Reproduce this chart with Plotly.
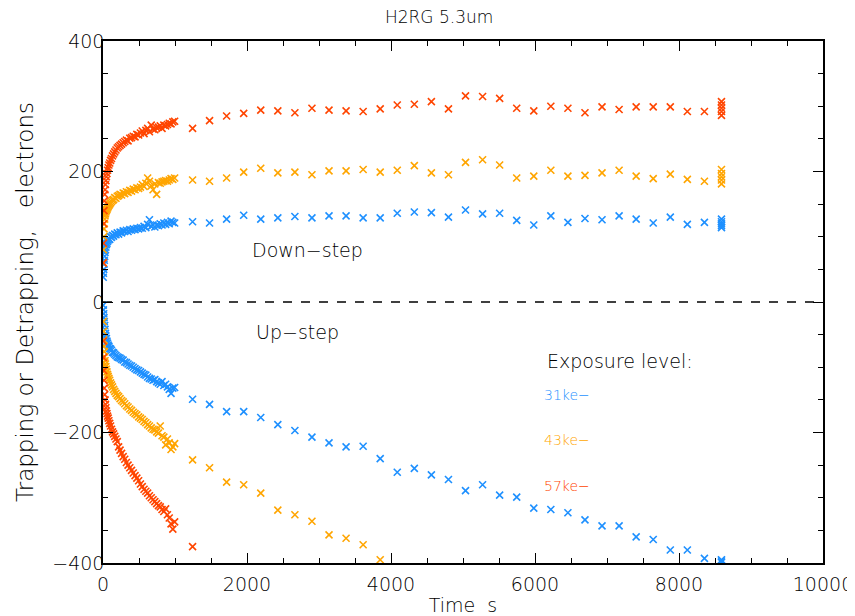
import plotly.graph_objects as go

# ---- data ----
t_dense = [3, 6, 10, 14, 18, 23, 28, 34, 40, 47, 55, 63, 72, 82, 93, 105, 118, 132, 147, 163,
           180, 198, 217, 237, 258, 280, 302, 325, 348, 372, 396, 420, 445, 470, 495, 520, 545,
           570, 595, 620, 645, 670, 695, 720, 745, 770, 795, 820, 845, 870, 895, 920, 945, 970, 995]
t_sparse = [1244, 1480, 1717, 1954, 2191, 2428, 2665, 2902, 3139, 3376, 3613, 3850, 4087, 4324,
            4561, 4798, 5035, 5272, 5509, 5746, 5983, 6220, 6457, 6694, 6931, 7168, 7405, 7642,
            7879, 8116, 8353]
t_end = 8590

# Down-step (detrapping), positive
blue_down_dense = [38, 44, 50, 58, 64, 70, 76, 80, 84, 88, 90, 93, 95, 97, 96, 100, 99, 102, 101, 104,
                   103, 106, 104, 107, 106, 109, 108, 110, 108, 111, 110, 112, 111, 113, 112, 114, 113,
                   116, 114, 119, 126, 116, 118, 115, 118, 117, 120, 118, 121, 119, 122, 120, 124, 122, 121]
orange_down_dense = [60, 80, 100, 112, 120, 127, 132, 135, 138, 140, 142, 144, 146, 148, 150, 152, 154, 156, 157, 160,
                     159, 162, 163, 165, 164, 167, 166, 169, 168, 171, 170, 173, 172, 175, 174, 176, 180,
                     177, 182, 190, 185, 178, 172, 181, 165, 183, 182, 184, 185, 186, 185, 187, 189, 188, 190]
red_down_dense = [60, 90, 120, 140, 155, 165, 172, 180, 186, 192, 197, 202, 206, 210, 213, 217, 220, 224, 227, 230,
                  233, 236, 238, 240, 242, 244, 246, 248, 247, 251, 252, 254, 253, 257, 256, 259, 262,
                  258, 263, 266, 261, 271, 265, 264, 267, 268, 270, 266, 271, 270, 272, 274, 273, 276, 277]

blue_down_sparse = [123, 121, 127, 133, 127, 129, 131, 129, 132, 132, 129, 129, 136, 138, 137, 130, 141, 135, 136,
                    125, 118, 132, 122, 128, 126, 132, 127, 121, 130, 119, 122]
orange_down_sparse = [187, 185, 190, 199, 205, 198, 199, 195, 201, 201, 203, 199, 202, 209, 198, 195, 214, 218, 210,
                      190, 193, 202, 193, 194, 198, 202, 193, 189, 196, 188, 185]
red_down_sparse = [266, 278, 285, 289, 294, 293, 290, 297, 294, 293, 292, 296, 302, 303, 307, 296, 316, 315, 312,
                   297, 293, 300, 297, 290, 299, 295, 299, 299, 299, 292, 292]

blue_down_end = [127, 123, 120, 117, 114]
orange_down_end = [203, 197, 192, 187, 181]
red_down_end = [307, 302, 297, 292, 286]

# Up-step (trapping), negative
blue_up_dense = [-5, -12, -18, -24, -30, -36, -42, -48, -52, -56, -60, -63, -66, -68, -71, -72, -74, -77, -78, -80,
                 -82, -84, -85, -86, -88, -89, -92, -93, -95, -97, -98, -100, -102, -104, -105, -107, -109,
                 -111, -112, -115, -117, -118, -120, -119, -122, -124, -126, -122, -128, -126, -130, -134, -140, -132, -131]
orange_up_dense = [-30, -45, -58, -68, -76, -84, -90, -95, -99, -103, -107, -111, -114, -117, -120, -124, -127, -130, -134, -137,
                   -140, -143, -145, -148, -151, -153, -156, -159, -161, -164, -166, -169, -171, -173, -176, -178, -180,
                   -183, -185, -188, -190, -193, -195, -196, -199, -201, -190, -205, -207, -219, -210, -216, -226, -222, -217]
red_up_dense = [-60, -85, -105, -120, -132, -142, -150, -157, -162, -167, -171, -175, -178, -182, -186, -190, -195, -199, -202, -206,
                -210, -214, -222, -227, -232, -237, -241, -246, -250, -254, -258, -262, -266, -270, -274, -279, -283,
                -287, -290, -293, -297, -300, -303, -306, -309, -312, -314, -318, -321, -317, -326, -331, -340, -348, -337]

blue_up_sparse = [-149, -157, -168, -168, -177, -188, -197, -207, -216, -222, -221, -240, -261, -255, -265, -272, -289, -280, -296,
                  -299, -316, -318, -323, -334, -343, -343, -360, -364, -380, -380, -393]
orange_up_sparse = [-242, -254, -276, -280, -293, -319, -326, -336, -357, -362, -372, -395]
red_up_sparse = [-375]
blue_up_end = [-395, -397, -399]

x_ticks = [0, 2000, 4000, 6000, 8000, 10000]
x_ticklabels = ["0", "2000", "4000", "6000", "8000", "10000"]
y_ticks = [-400, -200, 0, 200, 400]
y_ticklabels = ["\u2212400", "\u2212200", "0", "200", "400"]

BLUE = "#1E90FF"
ORANGE = "#FFA500"
RED = "#FF4500"

fig = go.Figure()

def add(xs, ys, color):
    fig.add_trace(go.Scatter(
        x=xs, y=ys, mode="markers",
        marker=dict(symbol="x-thin", size=7, color=color, line=dict(color=color, width=1.6)),
        showlegend=False, hoverinfo="skip"))

series = [
    (blue_down_dense, blue_down_sparse, blue_down_end, BLUE),
    (orange_down_dense, orange_down_sparse, orange_down_end, ORANGE),
    (red_down_dense, red_down_sparse, red_down_end, RED),
    (blue_up_dense, blue_up_sparse, blue_up_end, BLUE),
    (orange_up_dense, orange_up_sparse, [], ORANGE),
    (red_up_dense, red_up_sparse, [], RED),
]
for dense, sparse, end, col in series:
    xs = t_dense + t_sparse[:len(sparse)] + [t_end] * len(end)
    ys = dense + sparse + end
    add(xs, ys, col)

FONT = "DejaVu Sans, Liberation Sans, sans-serif"
TXT = "#000000"
W = 300

fig.add_shape(type="line", xref="x", yref="y", x0=0, x1=10000, y0=0, y1=0,
              line=dict(color="black", width=1.5, dash="dash"), layer="below")

annots = [
    dict(x=2836, y=80, text="Down\u2212step", color=TXT, anchor="center"),
    dict(x=2700, y=-46, text="Up\u2212step", color=TXT, anchor="center"),
    dict(x=6140, y=-90, text="Exposure level:", color=TXT, anchor="left"),
    dict(x=6100, y=-143, text="31ke\u2212", color=BLUE, anchor="left"),
    dict(x=6100, y=-211, text="43ke\u2212", color=ORANGE, anchor="left"),
    dict(x=6100, y=-282, text="57ke\u2212", color=RED, anchor="left"),
]
for a in annots:
    fig.add_annotation(x=a["x"], y=a["y"], text=a["text"], showarrow=False,
                       xanchor=a["anchor"], yanchor="middle",
                       font=dict(family=FONT, size=19 if a["color"] == TXT else 14, color=a["color"], weight=W))

axis_common = dict(
    showgrid=False, zeroline=False, showline=True, linecolor="black", linewidth=1.5,
    mirror="allticks", ticks="inside", ticklen=10, tickwidth=1.3, tickcolor="black",
    tickfont=dict(family=FONT, size=19, color=TXT, weight=W), automargin=False,
)
fig.update_xaxes(range=[0, 10000], tickvals=x_ticks, ticktext=x_ticklabels, ticklabelstandoff=3,
                 minor=dict(ticks="inside", ticklen=5, tickwidth=1.2, tickcolor="black", dtick=500, tick0=0),
                 title=dict(text="Time  s", font=dict(family=FONT, size=19, color=TXT, weight=W), standoff=6),
                 **axis_common)
fig.update_yaxes(range=[-400, 400], tickvals=y_ticks, ticktext=y_ticklabels, ticklabelstandoff=-7,
                 minor=dict(ticks="inside", ticklen=5, tickwidth=1.2, tickcolor="black", dtick=50, tick0=0),
                 title=dict(text="Trapping or Detrapping,   electrons", font=dict(family=FONT, size=23, color=TXT, weight=W), standoff=12),
                 **axis_common)

# page has an 8px body margin; size/margins compensate so the plot box lands at (103..823, 41..563)
fig.update_layout(
    width=847, height=608,
    margin=dict(l=95, r=32, t=33, b=53),
    paper_bgcolor="white", plot_bgcolor="white",
    title=dict(text="H2RG 5.3um", x=0.509, xanchor="center", y=0.985, yanchor="middle",
               font=dict(family=FONT, size=17, color=TXT, weight=W)),
)

fig.write_html("out.html")
